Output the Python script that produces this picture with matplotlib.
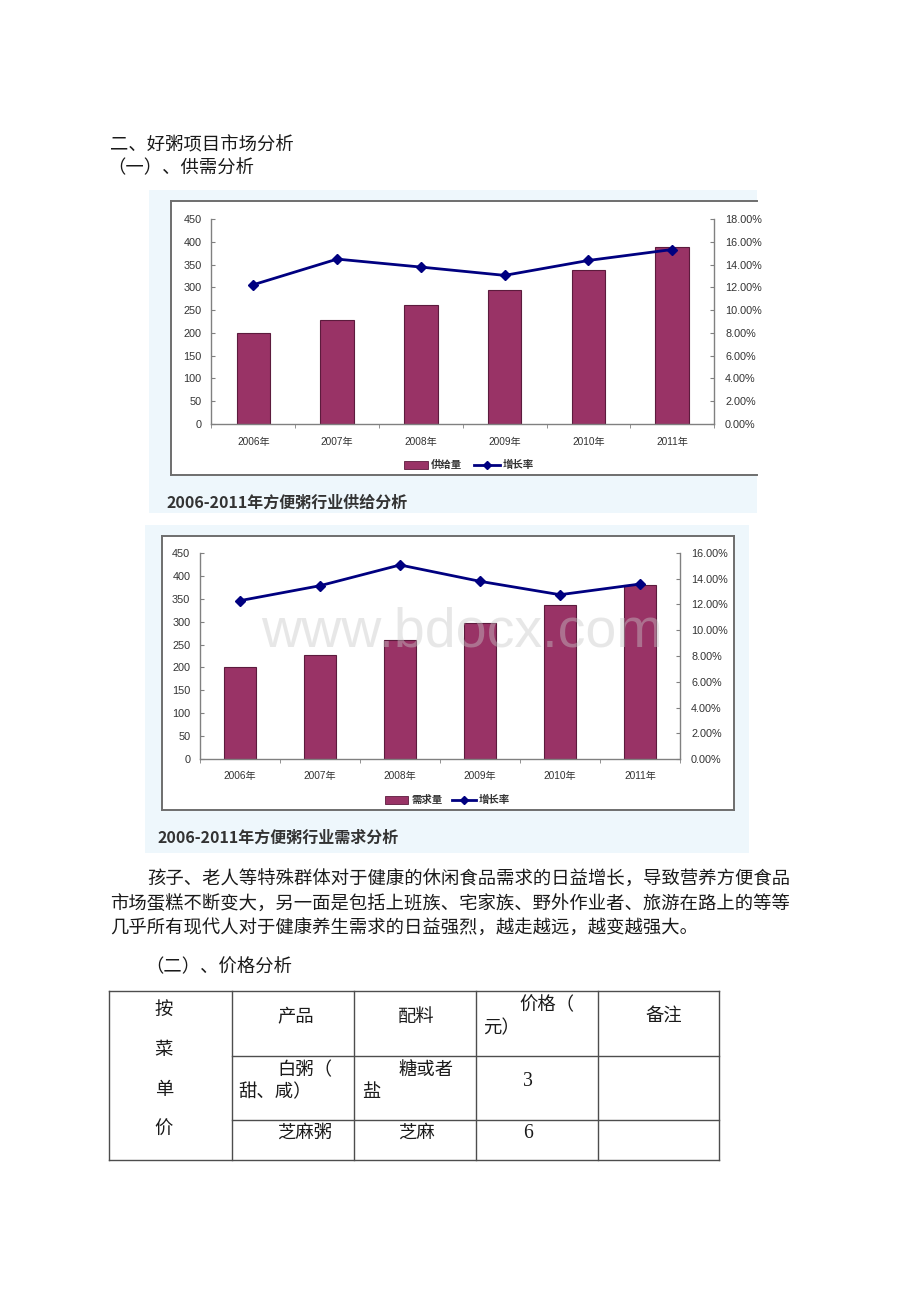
import matplotlib
matplotlib.use("Agg")
import matplotlib.pyplot as plt
import numpy as np
from matplotlib.patches import Rectangle
from matplotlib.lines import Line2D
from matplotlib.ticker import FuncFormatter, MultipleLocator

plt.rcParams['font.family'] = ['Noto Sans CJK SC', 'DejaVu Sans']

# ---------------- data ----------------
years = ['2006年', '2007年', '2008年', '2009年', '2010年', '2011年']
supply = [200, 228, 261, 294, 338, 388]
supply_growth = [12.23, 14.48, 13.78, 13.05, 14.36, 15.32]
demand = [200, 227, 261, 297, 336, 381]
demand_growth = [12.30, 13.46, 15.07, 13.80, 12.76, 13.59]

supply_title = '2006-2011年方便粥行业供给分析'
demand_title = '2006-2011年方便粥行业需求分析'
supply_labels = ['供给量', '增长率']
demand_labels = ['需求量', '增长率']

heading1 = '二、好粥项目市场分析'
heading2 = '（一）、供需分析'
heading3 = '（二）、价格分析'
para_lines = ['孩子、老人等特殊群体对于健康的休闲食品需求的日益增长，导致营养方便食品',
              '市场蛋糕不断变大，另一面是包括上班族、宅家族、野外作业者、旅游在路上的等等',
              '几乎所有现代人对于健康养生需求的日益强烈，越走越远，越变越强大。']
table_side = ['按', '菜', '单', '价']
table_head = ['产品', '配料', '价格（', '元）', '备注']
products = ['白粥（', '甜、咸）', '芝麻粥']
ingredients = ['糖或者', '盐', '芝麻']
prices = ['3', '6']

# ---------------- figure ----------------
W, H = 920, 1302
fig = plt.figure(figsize=(W / 100, H / 100), dpi=100)
fig.patch.set_facecolor('white')

page = fig.add_axes([0, 0, 1, 1], zorder=0)
page.set_xlim(0, W)
page.set_ylim(H, 0)
page.axis('off')

BAR = '#993366'
BAR_EDGE = '#5c1b3d'
LINE = '#000080'
TXT = '#1a1a1a'
TICK_FONT = ['Liberation Sans', 'Noto Sans CJK SC']
BODY = 13.2
BODY_W = 'light'


def frac_axes(left, right, top, bottom, **kw):
    return fig.add_axes([left / W, 1 - bottom / H, (right - left) / W, (bottom - top) / H], **kw)


def draw_chart(bg, box, plot, values, growth, gmax, labels, title, title_xy,
               legend_x, legend_y, bar_w):
    bx0, by0, bx1, by1 = bg
    page.add_patch(Rectangle((bx0, by0), bx1 - bx0, by1 - by0, facecolor='#eef7fc',
                             edgecolor='none', zorder=1))
    x0, y0, x1, y1 = box
    xr = min(x1, bx1)
    page.add_patch(Rectangle((x0, y0), xr - x0, y1 - y0, facecolor='white',
                             edgecolor='none', zorder=2))
    ec = '#6e6e6e'
    page.plot([x0, x0], [y0, y1], color=ec, lw=1.4, zorder=3)
    page.plot([x0, xr], [y0, y0], color=ec, lw=1.4, zorder=3)
    page.plot([x0, xr], [y1, y1], color=ec, lw=1.4, zorder=3)
    if x1 <= bx1:
        page.plot([x1, x1], [y0, y1], color=ec, lw=1.4, zorder=3)

    pl, pr, pt, pb = plot
    ax = frac_axes(pl, pr, pt, pb, zorder=2)
    ax.set_facecolor('none')
    xs = np.arange(len(values))
    ax.bar(xs, values, width=bar_w, color=BAR, edgecolor=BAR_EDGE, linewidth=0.8, zorder=2)
    ax.set_xlim(-0.5, len(values) - 0.5)
    ax.set_ylim(0, 450)
    ax.yaxis.set_major_locator(MultipleLocator(50))
    for s in ['top', 'right']:
        ax.spines[s].set_visible(False)
    for s in ['left', 'bottom']:
        ax.spines[s].set_color('#808080')
        ax.spines[s].set_linewidth(1.0)
    ax.set_xticks(xs)
    ax.set_xticklabels(years)
    ax.set_xticks(np.arange(-0.5, len(values)), minor=True)
    ax.tick_params(axis='x', which='major', length=0, pad=9, labelsize=7.3, labelcolor='#333333')
    ax.tick_params(axis='x', which='minor', length=3, direction='out', color='#808080')
    ax.tick_params(axis='y', length=3, direction='in', pad=7, labelsize=7.8,
                   labelcolor='#333333', color='#808080')
    for t in ax.get_xticklabels() + ax.get_yticklabels():
        t.set_family(TICK_FONT)

    ax2 = ax.twinx()
    ax2.set_facecolor('none')
    ax2.plot(xs, growth, color=LINE, lw=2, marker='D', markersize=5.5, zorder=3)
    ax2.set_ylim(0, gmax)
    ax2.yaxis.set_major_locator(MultipleLocator(2))
    ax2.yaxis.set_major_formatter(FuncFormatter(lambda v, p: f'{v:.2f}%'))
    for s in ['top', 'left', 'bottom']:
        ax2.spines[s].set_visible(False)
    ax2.spines['right'].set_color('#808080')
    ax2.spines['right'].set_linewidth(1.0)
    ax2.tick_params(axis='y', length=3, direction='in', pad=8, labelsize=7.8,
                    labelcolor='#333333', color='#808080')
    for t in ax2.get_yticklabels():
        t.set_family(TICK_FONT)

    # legend
    lx = legend_x
    page.add_patch(Rectangle((lx[0], legend_y - 4), lx[1] - lx[0], 8, facecolor=BAR,
                             edgecolor=BAR_EDGE, lw=0.6, zorder=4))
    page.text(lx[2], legend_y, labels[0], fontsize=7.5, color='#333333', va='center',
              ha='left', zorder=4, fontweight='bold')
    page.add_line(Line2D([lx[3], lx[4]], [legend_y, legend_y], color=LINE, lw=2, zorder=4))
    page.plot([(lx[3] + lx[4]) / 2], [legend_y], marker='D', color=LINE, markersize=4.5,
              linestyle='none', zorder=5)
    page.text(lx[5], legend_y, labels[1], fontsize=7.5, color='#333333', va='center',
              ha='left', zorder=4, fontweight='bold')

    page.text(title_xy[0], title_xy[1], title, fontsize=11.5, fontweight='bold',
              color='#333333', va='center', ha='left', zorder=4)
    return ax, ax2


# chart 1 (supply)
draw_chart(bg=(149, 190, 757, 513), box=(171.5, 200.5, 790, 474.5),
           plot=(211.5, 714, 219, 424), values=supply, growth=supply_growth, gmax=18,
           labels=supply_labels, title=supply_title, title_xy=(167, 503),
           legend_x=(404, 428, 431, 474, 500, 503), legend_y=465, bar_w=0.40)

# chart 2 (demand)
draw_chart(bg=(145, 525, 749, 853), box=(162.5, 535.5, 734, 810),
           plot=(200, 680, 553, 759), values=demand, growth=demand_growth, gmax=16,
           labels=demand_labels, title=demand_title, title_xy=(158, 838),
           legend_x=(385, 408, 411, 452, 476, 479), legend_y=800, bar_w=0.39)

# watermark
fig.text(462 / W, 1 - 632 / H, 'www.bdocx.com', fontsize=40, color='#c8c8c8', alpha=0.42,
         ha='center', va='center', family='Liberation Sans', zorder=10)

# ---------------- page text ----------------
def body(x, y, s, ha='left', **kw):
    page.text(x, y, s, fontsize=kw.pop('fontsize', BODY), color=TXT, va='center', ha=ha,
              zorder=4, fontweight=kw.pop('fontweight', BODY_W), **kw)


body(110, 145, heading1)
body(107, 168, heading2)

para_x = [147, 110, 110]
para_y = [880, 905, 929]
for s, px, py in zip(para_lines, para_x, para_y):
    body(px, py, s)

body(145, 967, heading3)

# ---------------- table ----------------
cols = [109, 232, 354, 476, 598, 719]
rows = [991, 1056, 1120, 1160]
lc = '#4d4d4d'
page.plot([cols[0], cols[-1]], [rows[0], rows[0]], color=lc, lw=1.0, zorder=4)
page.plot([cols[0], cols[-1]], [rows[-1], rows[-1]], color=lc, lw=1.0, zorder=4)
for r in rows[1:-1]:
    page.plot([cols[1], cols[-1]], [r, r], color=lc, lw=1.0, zorder=4)
for c in cols:
    page.plot([c, c], [rows[0], rows[-1]], color=lc, lw=1.0, zorder=4)

for ch, yy in zip(table_side, [1010, 1050, 1090, 1130]):
    body(164, yy, ch, ha='center')

body(277, 1017, table_head[0])
body(398, 1017, table_head[1])
body(519, 1005, table_head[2])
body(483, 1028, table_head[3])
body(664, 1017, table_head[4], ha='center')

body(277, 1070, products[0])
body(238, 1092, products[1])
body(277, 1133, products[2])

body(398, 1070, ingredients[0])
body(362, 1092, ingredients[1])
body(398, 1133, ingredients[2])

body(528, 1082, prices[0], ha='center', fontsize=BODY + 1, fontweight='normal',
     family='Liberation Serif')
body(528, 1133, prices[1], ha='center', fontsize=BODY + 1, fontweight='normal',
     family='Liberation Serif')

fig.savefig('out.png', dpi=100, facecolor='white')
